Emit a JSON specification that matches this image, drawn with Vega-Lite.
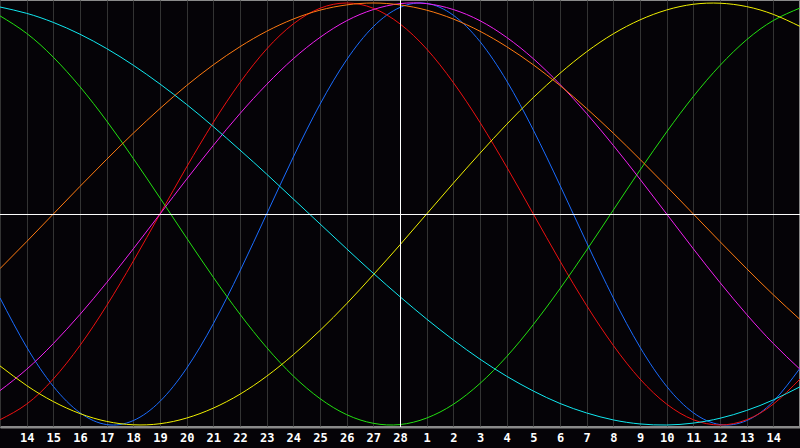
{
"$schema": "https://vega.github.io/schema/vega-lite/v6.json",
"width": 800, "height": 427,
"autosize": {"type": "none"},
"padding": {"left": 0, "top": 0, "right": 0, "bottom": 21},
"background": "#050307",
"config": {"view": {"stroke": "#8a8a8a", "strokeWidth": 2}},
"datasets": {
"vline": [{"d": 15}],
"hline": [{"v": 0}],
"curves": [
{"s":"Physical","d":0,"v":-0.398},{"s":"Physical","d":1,"v":-0.631},{"s":"Physical","d":2,"v":-0.817},{"s":"Physical","d":3,"v":-0.942},{"s":"Physical","d":4,"v":-0.998},{"s":"Physical","d":5,"v":-0.979},{"s":"Physical","d":6,"v":-0.888},{"s":"Physical","d":7,"v":-0.731},{"s":"Physical","d":8,"v":-0.520},{"s":"Physical","d":9,"v":-0.270},{"s":"Physical","d":10,"v":0},{"s":"Physical","d":11,"v":0.270},{"s":"Physical","d":12,"v":0.520},{"s":"Physical","d":13,"v":0.731},{"s":"Physical","d":14,"v":0.888},{"s":"Physical","d":15,"v":0.979},{"s":"Physical","d":16,"v":0.998},{"s":"Physical","d":17,"v":0.942},{"s":"Physical","d":18,"v":0.817},{"s":"Physical","d":19,"v":0.631},{"s":"Physical","d":20,"v":0.398},{"s":"Physical","d":21,"v":0.136},{"s":"Physical","d":22,"v":-0.136},{"s":"Physical","d":23,"v":-0.398},{"s":"Physical","d":24,"v":-0.631},{"s":"Physical","d":25,"v":-0.817},{"s":"Physical","d":26,"v":-0.942},{"s":"Physical","d":27,"v":-0.998},{"s":"Physical","d":28,"v":-0.979},{"s":"Physical","d":29,"v":-0.888},{"s":"Physical","d":30,"v":-0.731},
{"s":"Emotional","d":0,"v":-0.975},{"s":"Emotional","d":1,"v":-0.901},{"s":"Emotional","d":2,"v":-0.782},{"s":"Emotional","d":3,"v":-0.623},{"s":"Emotional","d":4,"v":-0.434},{"s":"Emotional","d":5,"v":-0.223},{"s":"Emotional","d":6,"v":0},{"s":"Emotional","d":7,"v":0.223},{"s":"Emotional","d":8,"v":0.434},{"s":"Emotional","d":9,"v":0.623},{"s":"Emotional","d":10,"v":0.782},{"s":"Emotional","d":11,"v":0.901},{"s":"Emotional","d":12,"v":0.975},{"s":"Emotional","d":13,"v":1},{"s":"Emotional","d":14,"v":0.975},{"s":"Emotional","d":15,"v":0.901},{"s":"Emotional","d":16,"v":0.782},{"s":"Emotional","d":17,"v":0.623},{"s":"Emotional","d":18,"v":0.434},{"s":"Emotional","d":19,"v":0.223},{"s":"Emotional","d":20,"v":0},{"s":"Emotional","d":21,"v":-0.223},{"s":"Emotional","d":22,"v":-0.434},{"s":"Emotional","d":23,"v":-0.623},{"s":"Emotional","d":24,"v":-0.782},{"s":"Emotional","d":25,"v":-0.901},{"s":"Emotional","d":26,"v":-0.975},{"s":"Emotional","d":27,"v":-1},{"s":"Emotional","d":28,"v":-0.975},{"s":"Emotional","d":29,"v":-0.901},{"s":"Emotional","d":30,"v":-0.782},
{"s":"Intellectual","d":0,"v":0.939},{"s":"Intellectual","d":1,"v":0.856},{"s":"Intellectual","d":2,"v":0.743},{"s":"Intellectual","d":3,"v":0.603},{"s":"Intellectual","d":4,"v":0.441},{"s":"Intellectual","d":5,"v":0.263},{"s":"Intellectual","d":6,"v":0.076},{"s":"Intellectual","d":7,"v":-0.114},{"s":"Intellectual","d":8,"v":-0.300},{"s":"Intellectual","d":9,"v":-0.475},{"s":"Intellectual","d":10,"v":-0.633},{"s":"Intellectual","d":11,"v":-0.768},{"s":"Intellectual","d":12,"v":-0.875},{"s":"Intellectual","d":13,"v":-0.951},{"s":"Intellectual","d":14,"v":-0.992},{"s":"Intellectual","d":15,"v":-0.998},{"s":"Intellectual","d":16,"v":-0.967},{"s":"Intellectual","d":17,"v":-0.902},{"s":"Intellectual","d":18,"v":-0.803},{"s":"Intellectual","d":19,"v":-0.676},{"s":"Intellectual","d":20,"v":-0.524},{"s":"Intellectual","d":21,"v":-0.354},{"s":"Intellectual","d":22,"v":-0.171},{"s":"Intellectual","d":23,"v":0.019},{"s":"Intellectual","d":24,"v":0.208},{"s":"Intellectual","d":25,"v":0.389},{"s":"Intellectual","d":26,"v":0.557},{"s":"Intellectual","d":27,"v":0.704},{"s":"Intellectual","d":28,"v":0.826},{"s":"Intellectual","d":29,"v":0.917},{"s":"Intellectual","d":30,"v":0.976},
{"s":"Intuitive","d":0,"v":-0.837},{"s":"Intuitive","d":1,"v":-0.736},{"s":"Intuitive","d":2,"v":-0.614},{"s":"Intuitive","d":3,"v":-0.476},{"s":"Intuitive","d":4,"v":-0.325},{"s":"Intuitive","d":5,"v":-0.165},{"s":"Intuitive","d":6,"v":0},{"s":"Intuitive","d":7,"v":0.165},{"s":"Intuitive","d":8,"v":0.325},{"s":"Intuitive","d":9,"v":0.476},{"s":"Intuitive","d":10,"v":0.614},{"s":"Intuitive","d":11,"v":0.736},{"s":"Intuitive","d":12,"v":0.837},{"s":"Intuitive","d":13,"v":0.916},{"s":"Intuitive","d":14,"v":0.969},{"s":"Intuitive","d":15,"v":0.997},{"s":"Intuitive","d":16,"v":0.997},{"s":"Intuitive","d":17,"v":0.969},{"s":"Intuitive","d":18,"v":0.916},{"s":"Intuitive","d":19,"v":0.837},{"s":"Intuitive","d":20,"v":0.736},{"s":"Intuitive","d":21,"v":0.614},{"s":"Intuitive","d":22,"v":0.476},{"s":"Intuitive","d":23,"v":0.325},{"s":"Intuitive","d":24,"v":0.165},{"s":"Intuitive","d":25,"v":0},{"s":"Intuitive","d":26,"v":-0.165},{"s":"Intuitive","d":27,"v":-0.325},{"s":"Intuitive","d":28,"v":-0.476},{"s":"Intuitive","d":29,"v":-0.614},{"s":"Intuitive","d":30,"v":-0.736},
{"s":"Aesthetic","d":0,"v":-0.720},{"s":"Aesthetic","d":1,"v":-0.813},{"s":"Aesthetic","d":2,"v":-0.889},{"s":"Aesthetic","d":3,"v":-0.946},{"s":"Aesthetic","d":4,"v":-0.983},{"s":"Aesthetic","d":5,"v":-0.999},{"s":"Aesthetic","d":6,"v":-0.994},{"s":"Aesthetic","d":7,"v":-0.967},{"s":"Aesthetic","d":8,"v":-0.920},{"s":"Aesthetic","d":9,"v":-0.854},{"s":"Aesthetic","d":10,"v":-0.769},{"s":"Aesthetic","d":11,"v":-0.667},{"s":"Aesthetic","d":12,"v":-0.552},{"s":"Aesthetic","d":13,"v":-0.425},{"s":"Aesthetic","d":14,"v":-0.288},{"s":"Aesthetic","d":15,"v":-0.146},{"s":"Aesthetic","d":16,"v":0},{"s":"Aesthetic","d":17,"v":0.146},{"s":"Aesthetic","d":18,"v":0.288},{"s":"Aesthetic","d":19,"v":0.425},{"s":"Aesthetic","d":20,"v":0.552},{"s":"Aesthetic","d":21,"v":0.667},{"s":"Aesthetic","d":22,"v":0.769},{"s":"Aesthetic","d":23,"v":0.854},{"s":"Aesthetic","d":24,"v":0.920},{"s":"Aesthetic","d":25,"v":0.967},{"s":"Aesthetic","d":26,"v":0.994},{"s":"Aesthetic","d":27,"v":0.999},{"s":"Aesthetic","d":28,"v":0.983},{"s":"Aesthetic","d":29,"v":0.946},{"s":"Aesthetic","d":30,"v":0.889},
{"s":"Awareness","d":0,"v":-0.259},{"s":"Awareness","d":1,"v":-0.131},{"s":"Awareness","d":2,"v":0},{"s":"Awareness","d":3,"v":0.131},{"s":"Awareness","d":4,"v":0.259},{"s":"Awareness","d":5,"v":0.383},{"s":"Awareness","d":6,"v":0.5},{"s":"Awareness","d":7,"v":0.609},{"s":"Awareness","d":8,"v":0.707},{"s":"Awareness","d":9,"v":0.793},{"s":"Awareness","d":10,"v":0.866},{"s":"Awareness","d":11,"v":0.924},{"s":"Awareness","d":12,"v":0.966},{"s":"Awareness","d":13,"v":0.991},{"s":"Awareness","d":14,"v":1},{"s":"Awareness","d":15,"v":0.991},{"s":"Awareness","d":16,"v":0.966},{"s":"Awareness","d":17,"v":0.924},{"s":"Awareness","d":18,"v":0.866},{"s":"Awareness","d":19,"v":0.793},{"s":"Awareness","d":20,"v":0.707},{"s":"Awareness","d":21,"v":0.609},{"s":"Awareness","d":22,"v":0.5},{"s":"Awareness","d":23,"v":0.383},{"s":"Awareness","d":24,"v":0.259},{"s":"Awareness","d":25,"v":0.131},{"s":"Awareness","d":26,"v":0},{"s":"Awareness","d":27,"v":-0.131},{"s":"Awareness","d":28,"v":-0.259},{"s":"Awareness","d":29,"v":-0.383},{"s":"Awareness","d":30,"v":-0.5},
{"s":"Spiritual","d":0,"v":0.981},{"s":"Spiritual","d":1,"v":0.951},{"s":"Spiritual","d":2,"v":0.908},{"s":"Spiritual","d":3,"v":0.852},{"s":"Spiritual","d":4,"v":0.784},{"s":"Spiritual","d":5,"v":0.705},{"s":"Spiritual","d":6,"v":0.616},{"s":"Spiritual","d":7,"v":0.519},{"s":"Spiritual","d":8,"v":0.414},{"s":"Spiritual","d":9,"v":0.303},{"s":"Spiritual","d":10,"v":0.189},{"s":"Spiritual","d":11,"v":0.071},{"s":"Spiritual","d":12,"v":-0.047},{"s":"Spiritual","d":13,"v":-0.165},{"s":"Spiritual","d":14,"v":-0.281},{"s":"Spiritual","d":15,"v":-0.392},{"s":"Spiritual","d":16,"v":-0.498},{"s":"Spiritual","d":17,"v":-0.597},{"s":"Spiritual","d":18,"v":-0.688},{"s":"Spiritual","d":19,"v":-0.769},{"s":"Spiritual","d":20,"v":-0.839},{"s":"Spiritual","d":21,"v":-0.898},{"s":"Spiritual","d":22,"v":-0.943},{"s":"Spiritual","d":23,"v":-0.976},{"s":"Spiritual","d":24,"v":-0.995},{"s":"Spiritual","d":25,"v":-1},{"s":"Spiritual","d":26,"v":-0.991},{"s":"Spiritual","d":27,"v":-0.968},{"s":"Spiritual","d":28,"v":-0.931},{"s":"Spiritual","d":29,"v":-0.881},{"s":"Spiritual","d":30,"v":-0.819}
]
},
"layer": [
{
"data": {"name": "curves"},
"mark": {"type": "line", "strokeWidth": 1, "interpolate": "natural", "clip": true},
"encoding": {
"x": {"field": "d", "type": "quantitative", "scale": {"domain": [0, 30], "nice": false, "zero": false},
"axis": {"values": [0,1,2,3,4,5,6,7,8,9,10,11,12,13,14,15,16,17,18,19,20,21,22,23,24,25,26,27,28,29,30],
"tickCount": 60,
"grid": true, "gridColor": "#333333", "gridWidth": 1, "ticks": false,
"domainColor": "#8a8a8a", "domainWidth": 2,
"labelColor": "#ffffff", "labelFont": "DejaVu Sans Mono", "labelFontWeight": "bold", "labelFontSize": 12,
"labelPadding": 5, "labelOverlap": false, "labelBound": false, "labelFlush": false, "title": null,
"labelExpr": "datum.value < 1 || datum.value > 29 ? '' : '' + (datum.value <= 15 ? datum.value + 13 : datum.value - 15)"}},
"y": {"field": "v", "type": "quantitative", "scale": {"domain": [-1.0095, 1.0142], "nice": false, "zero": false}, "axis": null},
"color": {"field": "s", "type": "nominal", "legend": null,
"scale": {"domain": ["Spiritual","Intellectual","Awareness","Aesthetic","Intuitive","Emotional","Physical"],
"range": ["#10e8f0","#22e010","#ff7a10","#f0f000","#f020f0","#ee1010","#1a6cff"]}}
}
},
{
"data": {"name": "hline"},
"mark": {"type": "rule", "color": "#ffffff", "strokeWidth": 1, "yOffset": 0.5},
"encoding": {
"y": {"field": "v", "type": "quantitative"}
}
},
{
"data": {"name": "vline"},
"mark": {"type": "rule", "color": "#ffffff", "strokeWidth": 1, "xOffset": 0.5},
"encoding": {
"x": {"field": "d", "type": "quantitative"}
}
}
]
}
